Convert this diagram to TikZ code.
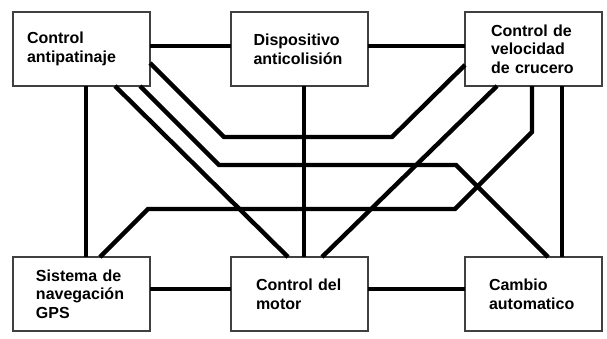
\documentclass[tikz,border=0pt]{standalone}
\usepackage{fontspec}
\setmainfont{Liberation Sans}
\usetikzlibrary{positioning,calc}
\tikzset{
  unit/.style={rectangle,draw=black!75,line width=0.8pt,fill=white,
    minimum width=102.75pt,minimum height=55.5pt,inner xsep=0pt,outer sep=0pt,
    text width=#1,align=left,font=\bfseries\fontsize{12}{14}\selectfont},
  link/.style={line width=3.3pt}
}
\begin{document}
\begin{tikzpicture}[x=0.75pt,y=-0.75pt]
  \useasboundingbox (0,0) rectangle (607,339);
  \node[unit=81.75pt] (antislip) at (81.5,49) {Control\\antipatinaje};
  \node[unit=69pt,right=60.75pt of antislip] (collision) {Dispositivo\\anticolisión};
  \node[unit=63.75pt,right=72.75pt of collision] (cruise) {Control de\\velocidad\\de crucero};
  \node[unit=68.25pt,below=128.25pt of antislip] (gps) {Sistema de\\navegación\\GPS};
  \node[unit=65.25pt,below=128.25pt of collision] (motor) {Control del\\motor};
  \node[unit=66.75pt,below=128.25pt of cruise] (gearbox) {Cambio\\automatico};

  % top and bottom rows
  \draw[link] ($(antislip.east)+(0,-3)$) -- ($(collision.west)+(0,-3)$);
  \draw[link] ($(collision.east)+(0,-3)$) -- ($(cruise.west)+(0,-3)$);
  \draw[link] ($(gps.east)+(0,-5)$) -- ($(motor.west)+(0,-5)$);
  \draw[link] ($(motor.east)+(0,-5)$) -- ($(gearbox.west)+(0,-5)$);
  % verticals
  \draw[link] ($(antislip.south)+(4.5,0)$) -- ($(gps.north)+(4.5,0)$);
  \draw[link] ($(collision.south)+(4.5,0)$) -- ($(motor.north)+(4.5,0)$);
  \draw[link] ($(cruise.south)+(28.5,0)$) -- ($(gearbox.north)+(28.5,0)$);
  % crossing links
  \draw[link] ($(antislip.east)+(0,14)$) -- (224,137) -- (392,137) -- ($(cruise.west)+(0,16)$);
  \draw[link] ($(antislip.south)+(58.5,0)$) -- (219,165) -- (456,165) -- ($(gearbox.north)+(14.5,0)$);
  \draw[link] ($(antislip.south)+(33.5,0)$) -- ($(motor.north)+(-11.5,0)$);
  \draw[link] ($(cruise.south)+(-36.5,0)$) -- ($(motor.north)+(22.5,0)$);
  \draw[link] ($(cruise.south)+(-1.5,0)$) -- (532,132) -- (455,209) -- (148,209) -- ($(gps.north)+(18.5,0)$);
\end{tikzpicture}
\end{document}
